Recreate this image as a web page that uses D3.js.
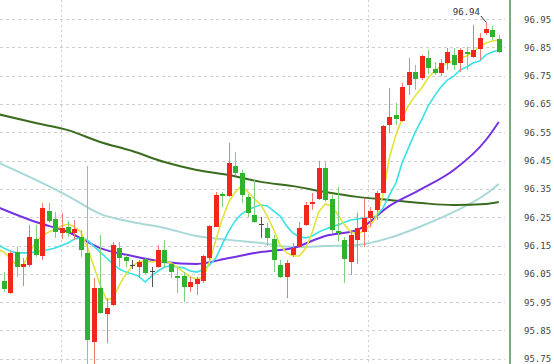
<!DOCTYPE html>
<html>
  <head>
    <meta charset="utf-8">
    <title>Candlestick chart</title>
    <script src="https://d3js.org/d3.v7.min.js"></script>
    <style>
      body { margin: 0; background: #fff; }
      .grid line { stroke: #cfcfcf; stroke-dasharray: 3,3; shape-rendering: crispEdges; }
      .ylab text { font-family: "DejaVu Sans Mono", monospace; font-size: 9px; fill: #444; }
    </style>
  </head>
  <body>
    <div id="vis"></div>
    <script>
        const width = 554;
        const height = 364;
        const plotRight = 508;

        // candle values, left to right
        const opens = [96.025,95.982,96.127,96.074,96.081,96.173,96.113,96.272,96.244,96.194,
                       96.216,96.194,96.180,96.124,95.809,95.999,95.908,95.940,96.141,96.110,
                       96.081,96.074,96.102,96.060,96.074,96.134,96.085,96.042,96.042,96.003,
                       96.014,96.025,96.106,96.216,96.332,96.325,96.431,96.406,96.322,96.258,
                       96.226,96.212,96.173,96.081,96.039,96.117,96.145,96.223,96.297,96.315,
                       96.424,96.315,96.201,96.170,96.092,96.170,96.198,96.247,96.276,96.336,
                       96.576,96.611,96.590,96.718,96.763,96.742,96.813,96.774,96.760,96.795,
                       96.824,96.795,96.834,96.817,96.845,96.901,96.912,96.880];
        const highs = [96.056,96.131,96.145,96.106,96.223,96.223,96.300,96.300,96.269,96.265,
                       96.237,96.240,96.205,96.431,96.035,96.187,95.964,96.163,96.163,96.117,
                       96.099,96.099,96.110,96.074,96.152,96.170,96.092,96.071,96.056,96.039,
                       96.039,96.117,96.223,96.339,96.339,96.513,96.481,96.417,96.332,96.382,
                       96.251,96.230,96.187,96.099,96.099,96.159,96.233,96.304,96.336,96.449,
                       96.445,96.329,96.357,96.180,96.205,96.265,96.318,96.286,96.343,96.576,
                       96.707,96.654,96.725,96.813,96.788,96.824,96.841,96.799,96.809,96.848,
                       96.848,96.848,96.852,96.930,96.901,96.940,96.926,96.894];
        const lows = [95.986,95.979,96.039,96.007,96.074,96.110,96.099,96.230,96.177,96.173,
                      96.180,96.170,96.110,95.720,95.720,95.908,95.805,95.936,96.074,96.074,
                      96.067,96.035,96.049,96.003,96.071,96.071,96.035,95.982,95.950,95.986,
                      95.975,96.018,96.099,96.216,96.286,96.322,96.399,96.300,96.251,96.230,
                      96.177,96.148,96.056,96.035,95.964,96.110,96.141,96.219,96.276,96.311,
                      96.304,96.194,96.163,96.018,96.046,96.085,96.145,96.216,96.240,96.336,
                      96.548,96.576,96.587,96.682,96.700,96.735,96.756,96.753,96.749,96.771,
                      96.771,96.763,96.771,96.813,96.806,96.894,96.877,96.831];
        const closes = [95.996,96.124,96.074,96.085,96.180,96.117,96.283,96.237,96.198,96.212,
                        96.194,96.208,96.134,95.816,95.999,95.912,95.929,96.152,96.106,96.095,
                        96.081,96.092,96.053,96.060,96.134,96.088,96.056,96.035,96.003,96.021,
                        96.032,96.113,96.219,96.329,96.325,96.442,96.406,96.329,96.265,96.233,
                        96.226,96.177,96.099,96.039,96.088,96.141,96.212,96.293,96.304,96.424,
                        96.311,96.205,96.194,96.102,96.187,96.212,96.247,96.272,96.336,96.573,
                        96.604,96.597,96.711,96.763,96.739,96.820,96.778,96.760,96.795,96.834,
                        96.788,96.841,96.827,96.841,96.884,96.915,96.887,96.834];

        // short moving averages, one value per candle starting one slot left of the first candle
        const maStart = -1;
        const ma5 = [96.138,96.127,96.106,96.081,96.078,96.124,96.163,96.184,96.198,96.208,96.219,
                     96.226,96.216,96.198,96.145,96.078,96.011,95.958,95.964,96.011,96.049,
                     96.078,96.092,96.095,96.092,96.095,96.095,96.088,96.074,96.056,96.039,
                     96.032,96.035,96.092,96.170,96.244,96.304,96.339,96.361,96.339,96.315,
                     96.293,96.254,96.205,96.152,96.124,96.113,96.113,96.141,96.198,96.269,
                     96.297,96.290,96.258,96.223,96.198,96.191,96.201,96.219,96.254,96.329,
                     96.463,96.541,96.601,96.647,96.679,96.707,96.742,96.767,96.785,96.795,
                     96.802,96.813,96.820,96.834,96.852,96.866,96.873,96.877];
        const ma10 = [96.155,96.141,96.131,96.124,96.124,96.124,96.128,96.131,96.136,96.141,96.150,
                      96.159,96.173,96.177,96.170,96.148,96.127,96.106,96.085,96.067,96.056,
                      96.049,96.042,96.021,96.042,96.060,96.074,96.078,96.074,96.071,96.060,
                      96.056,96.064,96.081,96.106,96.155,96.201,96.237,96.262,96.276,96.286,
                      96.293,96.290,96.272,96.254,96.219,96.194,96.180,96.177,96.184,96.198,
                      96.208,96.216,96.223,96.232,96.240,96.244,96.247,96.250,96.254,96.283,
                      96.329,96.371,96.445,96.498,96.551,96.594,96.643,96.679,96.710,96.735,
                      96.749,96.771,96.781,96.795,96.802,96.824,96.834,96.841];

        // long moving averages, sampled every five candles
        const longIdx = [-1,5,10,15,20,25,30,35,40,45,50,55,60,65,70,75,77];
        const ma30 = [96.286,96.233,96.198,96.141,96.113,96.092,96.085,96.106,96.127,96.141,
                      96.184,96.205,96.290,96.350,96.417,96.523,96.587];
        const ma60 = [96.445,96.382,96.325,96.262,96.233,96.212,96.184,96.170,96.159,96.145,
                      96.148,96.152,96.177,96.219,96.269,96.332,96.368];
        const ma120 = [96.615,96.583,96.558,96.516,96.484,96.445,96.417,96.399,96.375,96.360,
                       96.339,96.322,96.311,96.300,96.293,96.297,96.304];

        const yTicks = [95.75,95.85,95.95,96.05,96.15,96.25,96.35,96.45,96.55,96.65,96.75,96.85,96.95];
        const sessionBreaks = [8.9, 56.65];
        const peakIndex = 75;
        const peakLabel = "96.94";

        const x = d3.scaleLinear().domain([0, 77]).range([3.7, 498.8]);
        const y = d3.scaleLinear().domain([95.75, 96.95]).range([358.7, 19.2]);

        let vis = d3.select('#vis')
                    .append('svg')
                    .attr('width', width)
                    .attr('height', height);

        vis.append("defs").append("clipPath").attr("id", "plot")
           .append("rect").attr("x", 0).attr("y", 0).attr("width", plotRight).attr("height", height);

        // horizontal dashed grid
        vis.append("g").attr("class", "grid")
           .selectAll("line").data(yTicks).enter().append("line")
           .attr("x1", 0).attr("x2", 505)
           .attr("y1", d => Math.round(y(d)) + 0.5)
           .attr("y2", d => Math.round(y(d)) + 0.5);

        // vertical dotted session lines
        vis.append("g").attr("class", "grid")
           .selectAll("line").data(sessionBreaks).enter().append("line")
           .attr("x1", d => Math.round(x(d)) + 0.5).attr("x2", d => Math.round(x(d)) + 0.5)
           .attr("y1", 0).attr("y2", height)
           .style("stroke-dasharray", "2,3");

        const plot = vis.append("g").attr("clip-path", "url(#plot)");

        // moving average lines
        const lineOf = (idx, vals, curve) => d3.line()
              .x((d, i) => x(idx(i)))
              .y(d => y(d))
              .curve(curve)(vals);

        const longLines = [
          {vals: ma60, color: "#a9d8d8", w: 2},
          {vals: ma120, color: "#3b6b1f", w: 2},
          {vals: ma30, color: "#7530e3", w: 2}
        ];
        longLines.forEach(l => {
          plot.append("path")
              .attr("d", lineOf(i => longIdx[i], l.vals, d3.curveMonotoneX))
              .attr("fill", "none").attr("stroke", l.color).attr("stroke-width", l.w);
        });

        plot.append("path")
            .attr("d", lineOf(i => i + maStart, ma10, d3.curveLinear))
            .attr("fill", "none").attr("stroke", "#38e2e6").attr("stroke-width", 1.6);
        plot.append("path")
            .attr("d", lineOf(i => i + maStart, ma5, d3.curveLinear))
            .attr("fill", "none").attr("stroke", "#e2e23a").attr("stroke-width", 1.6);

        // candles
        const candles = opens.map((o, i) => ({i: i, o: o, h: highs[i], l: lows[i], c: closes[i]}));
        const candleColor = d => d.c > d.o ? "#f2261a" : (d.c < d.o ? "#2fb32f" : "#444");
        const wickColor = d => d.c > d.o ? "#f37a70" : (d.c < d.o ? "#7fcf7f" : "#555");

        const candle = plot.append("g").selectAll("g").data(candles).enter().append("g");

        candle.append("line")
              .attr("x1", d => Math.round(x(d.i)) + 0.5)
              .attr("x2", d => Math.round(x(d.i)) + 0.5)
              .attr("y1", d => y(d.h))
              .attr("y2", d => y(d.l))
              .attr("stroke", wickColor)
              .attr("stroke-width", 1);

        candle.append("rect")
              .attr("x", d => Math.round(x(d.i)) - 2)
              .attr("width", 5)
              .attr("y", d => y(Math.max(d.o, d.c)))
              .attr("height", d => Math.max(1, y(Math.min(d.o, d.c)) - y(Math.max(d.o, d.c))))
              .attr("fill", candleColor)
              .attr("shape-rendering", "crispEdges");

        // peak annotation
        const px = x(peakIndex), py = y(highs[peakIndex]);
        vis.append("line")
           .attr("x1", px - 5).attr("y1", py - 6)
           .attr("x2", px).attr("y2", py)
           .attr("stroke", "#333").attr("stroke-width", 1);
        vis.append("text")
           .attr("x", px - 6).attr("y", py - 7)
           .attr("text-anchor", "end")
           .style("font-family", "DejaVu Sans Mono, monospace")
           .style("font-size", "9px").style("fill", "#333")
           .text(peakLabel);

        // right border
        vis.append("line")
           .attr("x1", 510).attr("x2", 510).attr("y1", 0).attr("y2", height)
           .attr("stroke", "#7caa7c").attr("stroke-width", 2);

        // price axis
        const axis = d3.axisRight(y).tickValues(yTicks).tickSize(0).tickPadding(0)
                       .tickFormat(d3.format(".2f"));
        vis.append("g").attr("class", "ylab")
           .attr("transform", "translate(524,0)")
           .call(axis)
           .call(g => g.select(".domain").remove());
    </script>
  </body>
</html>
